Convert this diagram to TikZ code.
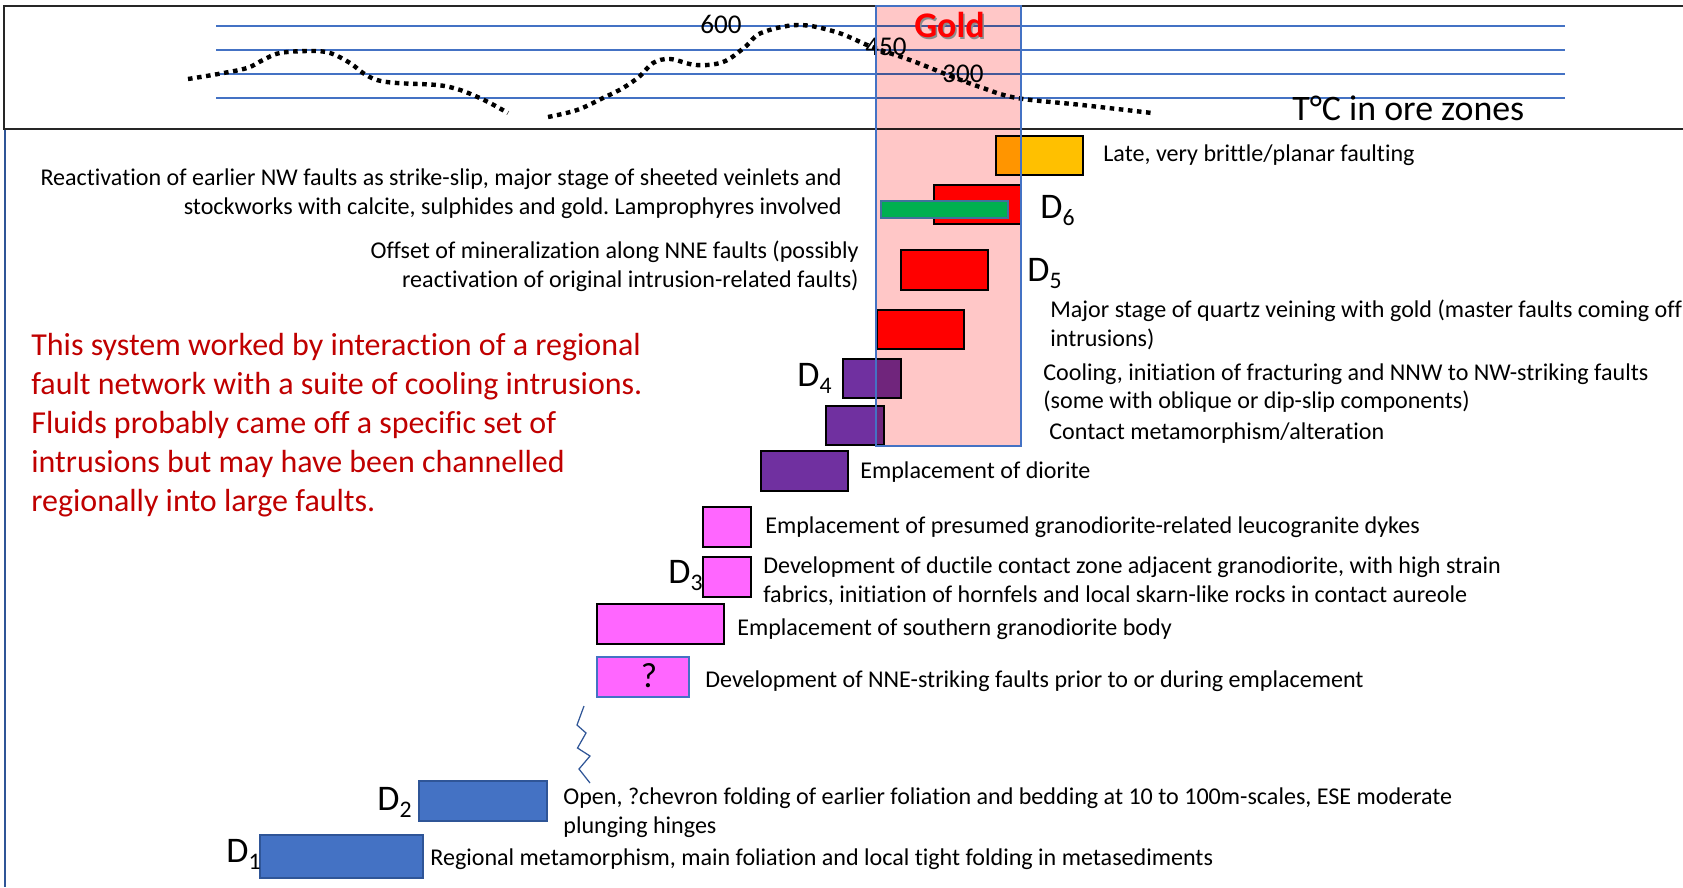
\documentclass[tikz,border=0pt]{standalone}
\usepackage{fontspec}
\setmainfont{Carlito}[Ligatures=NoCommon]
\frenchspacing

\definecolor{gridblue}{HTML}{4472C4}
\definecolor{edgeblue}{HTML}{2F5597}
\definecolor{goldpink}{HTML}{FFC7C7}
\definecolor{orebar}{HTML}{FFC000}
\definecolor{veingreen}{HTML}{00B050}
\definecolor{veinedge}{HTML}{41719C}
\definecolor{dioritepurple}{HTML}{7030A0}
\definecolor{granitepink}{HTML}{FF66FF}
\definecolor{notered}{HTML}{C00000}

\newcommand{\Dsub}[1]{D\raisebox{-0.22em}{\fontsize{13.5}{13.5}\selectfont #1}}

\tikzset{
  gridline/.style={gridblue, line width=0.6pt},
  tempcurve/.style={line width=2.5pt, dash pattern=on 2.6pt off 2.6pt},
  barbox/.style={draw=black, line width=1.3pt},
  stage/.style={anchor=west, inner sep=0pt, align=left, font=\fontsize{13.7}{16.4}\selectfont},
  stageR/.style={stage, anchor=east, align=right},
  dlab/.style={anchor=base west, inner sep=0pt, font=\fontsize{20.5}{20.5}\selectfont},
  tempnum/.style={inner sep=0pt, font=\fontsize{15.4}{15.4}\selectfont}
}

\begin{document}
\begin{tikzpicture}[x=2cm,y=-2cm]
		\useasboundingbox (0,0) rectangle (16.83,8.87);
		\fill [white] (0,0) rectangle (16.83,8.87);

		% temperature panel
		\draw [black!85, line width=1.3pt] (16.83,0.06) -- (0.04,0.06) -- (0.04,1.29) -- (16.83,1.29);
		\draw [edgeblue, line width=0.8pt] (0.05,1.30) -- (0.05,8.87);
		\foreach \y in {0.26,0.50,0.74,0.98}
			\draw [gridline] (2.16,\y) -- (15.65,\y);

		\draw [tempcurve] plot [smooth, tension=0.6] coordinates {(1.88,0.79) (2.18,0.74) (2.47,0.68) (2.63,0.60) (2.80,0.53) (3.10,0.51) (3.30,0.53) (3.50,0.63) (3.63,0.73) (3.77,0.80) (3.97,0.83) (4.37,0.85) (4.57,0.89) (4.73,0.95) (4.90,1.03) (5.08,1.13)};
		\draw [tempcurve] plot [smooth, tension=0.6] coordinates {(5.48,1.17) (5.77,1.10) (6.03,0.98) (6.23,0.88) (6.40,0.76) (6.53,0.63) (6.70,0.59) (6.96,0.65) (7.23,0.62) (7.45,0.47) (7.61,0.33) (7.98,0.25) (8.36,0.32) (8.72,0.47) (9.10,0.60) (9.48,0.75) (9.80,0.87) (10.17,0.98) (10.82,1.05) (11.52,1.13)};

		\node [tempnum] (t600) at (7.21,0.245) {600};
		\node [tempnum] (t450) at (8.86,0.465) {450};
		\node [tempnum] (t300) at (9.63,0.735) {300};
		\node [anchor=base west, inner sep=0pt, font=\fontsize{20.4}{20.4}\selectfont] (tore) at (12.92,1.20) {T°C in ore zones};

		% stage bars
		\fill [barbox, fill=orebar] (9.96,1.36) rectangle (10.83,1.75);
		\fill [barbox, fill=red] (9.34,1.85) rectangle (10.21,2.24);
		\fill [barbox, fill=red] (9.01,2.50) rectangle (9.88,2.90);
		\fill [barbox, fill=red] (8.77,3.10) rectangle (9.64,3.49);
		\fill [barbox, fill=dioritepurple] (8.43,3.59) rectangle (9.01,3.98);
		\fill [barbox, fill=dioritepurple] (8.26,4.06) rectangle (8.84,4.45);
		\fill [barbox, fill=dioritepurple] (7.61,4.51) rectangle (8.48,4.91);
		\fill [barbox, fill=granitepink] (7.03,5.07) rectangle (7.51,5.47);
		\fill [barbox, fill=granitepink] (7.03,5.57) rectangle (7.51,5.97);
		\fill [barbox, fill=granitepink] (5.97,6.04) rectangle (7.24,6.44);
		\fill [draw=gridblue, line width=0.9pt, fill=granitepink] (5.97,6.57) rectangle (6.89,6.97);
		\node [font=\fontsize{20}{20}\selectfont, inner sep=0pt] (query) at (6.49,6.76) {?};
		\fill [draw=edgeblue, line width=0.8pt, fill=gridblue] (4.19,7.81) rectangle (5.47,8.21);
		\fill [draw=edgeblue, line width=0.8pt, fill=gridblue] (2.60,8.35) rectangle (4.23,8.78);

		% gold window
		\fill [goldpink, blend mode=multiply] (8.76,0.06) rectangle (10.21,4.46);
		\draw [gridblue, line width=0.9pt] (8.76,0.06) rectangle (10.21,4.46);
		\fill [draw=veinedge, line width=1.5pt, fill=veingreen] (8.81,2.01) rectangle (10.08,2.18);
		\node [black!45, font=\fontsize{20.5}{20.5}\bfseries, inner sep=0pt] at (9.51,0.265) {Gold};
		\node [red, font=\fontsize{20.5}{20.5}\bfseries, inner sep=0pt] (gold) at (9.495,0.25) {Gold};

		% time break
		\draw [edgeblue, line width=0.7pt] (5.84,7.06) -- (5.77,7.25) -- (5.86,7.33) -- (5.775,7.48) -- (5.90,7.56) -- (5.79,7.69) -- (5.90,7.83);

		% deformation labels
		\node [dlab] (d6) at (10.40,2.18) {\Dsub{6}};
		\node [dlab] (d5) at (10.27,2.81) {\Dsub{5}};
		\node [dlab] (d4) at (7.97,3.86) {\Dsub{4}};
		\node [dlab] (d3) at (6.68,5.83) {\Dsub{3}};
		\node [dlab] (d2) at (3.77,8.10) {\Dsub{2}};
		\node [dlab] (d1) at (2.26,8.62) {\Dsub{1}};

		% stage descriptions
		\node [stage] (late) at (11.03,1.55) {Late, very brittle/planar faulting};
		\node [stageR] (reactiv) at (8.42,1.94) {Reactivation of earlier NW faults as strike-slip, major stage of sheeted veinlets and\\stockworks with calcite, sulphides and gold. Lamprophyres involved};
		\node [stageR] (offset) at (8.59,2.665) {Offset of mineralization along NNE faults (possibly\\reactivation of original intrusion-related faults)};
		\node [stage] (quartz) at (10.50,3.245) {Major stage of quartz veining with gold (master faults coming off\\intrusions)};
		\node [stage] (cooling) at (10.43,3.88) {Cooling, initiation of fracturing and NNW to NW-striking faults\\(some with oblique or dip-slip components)};
		\node [stage] (contact) at (10.49,4.33) {Contact metamorphism/alteration};
		\node [stage] (diorite) at (8.60,4.72) {Emplacement of diorite};
		\node [stage] (dykes) at (7.65,5.27) {Emplacement of presumed granodiorite-related leucogranite dykes};
		\node [stage] (ductile) at (7.63,5.815) {Development of ductile contact zone adjacent granodiorite, with high strain\\fabrics, initiation of hornfels and local skarn-like rocks in contact aureole};
		\node [stage] (southern) at (7.37,6.29) {Emplacement of southern granodiorite body};
		\node [stage] (nne) at (7.05,6.81) {Development of NNE-striking faults prior to or during emplacement};
		\node [stage] (chevron) at (5.63,8.125) {Open, ?chevron folding of earlier foliation and bedding at 10 to 100m-scales, ESE moderate\\plunging hinges};
		\node [stage] (regional) at (4.30,8.59) {Regional metamorphism, main foliation and local tight folding in metasediments};

		\node [stage, notered, font=\fontsize{18.2}{22.2}\selectfont] (summary) at (0.31,4.25) {This system worked by interaction of a regional\\fault network with a suite of cooling intrusions.\\Fluids probably came off a specific set of\\intrusions but may have been channelled\\regionally into large faults.};
	\end{tikzpicture}
\end{document}
